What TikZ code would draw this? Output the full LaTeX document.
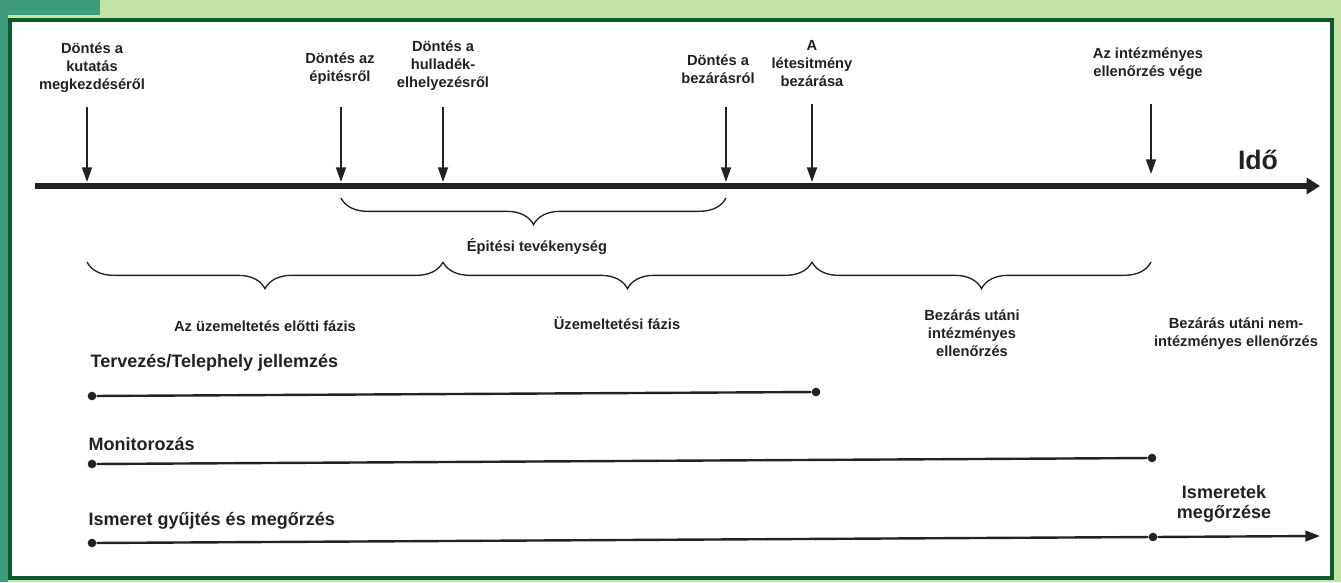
\documentclass[tikz,border=0pt]{standalone}
\usepackage{fontspec}
\setmainfont{Liberation Sans}
\usetikzlibrary{arrows.meta,decorations.pathreplacing}
\definecolor{framegreen}{HTML}{0E5A2C}
\definecolor{tealgreen}{HTML}{3E9C7C}
\definecolor{bandgreen}{HTML}{C2E3A6}
\definecolor{inkgray}{HTML}{222222}
\begin{document}
\begin{tikzpicture}[x=0.75pt,y=-0.75pt,
  event/.style={font=\bfseries\fontsize{11}{13.5}\selectfont,align=center,text=inkgray},
  phase/.style={font=\bfseries\fontsize{11}{13.5}\selectfont,align=center,text=inkgray},
  track/.style={font=\bfseries\fontsize{13.5}{15}\selectfont,text=inkgray},
  tick/.style={draw=inkgray,line width=1.3pt,-{Triangle[length=11pt,width=7.5pt]}},
  curly/.style={draw=inkgray,line width=1pt,decorate,decoration={brace,mirror,amplitude=20pt}},
  dot/.style={circle,fill=inkgray,inner sep=0pt,minimum size=6.5pt}]
% background and frame
\fill[bandgreen] (0,0) rectangle (1341,582);
\fill[tealgreen] (0,0) rectangle (100,15);
\fill[tealgreen] (0,0) rectangle (8,582);
\draw[framegreen,line width=3pt,fill=white] (10,20) rectangle (1332,578);
% time axis
\coordinate (t0) at (35,186);
\coordinate (tend) at (1320,186);
\draw[inkgray,line width=4.5pt,-{Triangle[length=10pt,width=12pt]}] (t0)--(tend);
\node[font=\bfseries\fontsize{20}{22}\selectfont,text=inkgray] (ido) at (1258,160) {Idő};
% events
\node[event] (kut) at (92,68) {Döntés a\\kutatás\\megkezdéséről};
\node[event] (epit) at (340,69) {Döntés az\\épitésről};
\node[event] (hull) at (443,66) {Döntés a\\hulladék-\\elhelyezésről};
\node[event] (bezd) at (718,69) {Döntés a\\bezárásról};
\node[event] (letes) at (812,64) {A\\létesitmény\\bezárása};
\node[event] (intv) at (1148,64) {Az intézményes\\ellenőrzés vége};
\coordinate (k1) at (87,107);  \coordinate (k2) at (87,182);
\coordinate (e1) at (341,107); \coordinate (e2) at (341,182);
\coordinate (h1) at (443,107); \coordinate (h2) at (443,182);
\coordinate (b1) at (726,107); \coordinate (b2) at (726,182);
\coordinate (l1) at (812,104); \coordinate (l2) at (812,182);
\coordinate (v1) at (1151,104); \coordinate (v2) at (1151,174);
\draw[tick] (k1)--(k2);
\draw[tick] (e1)--(e2);
\draw[tick] (h1)--(h2);
\draw[tick] (b1)--(b2);
\draw[tick] (l1)--(l2);
\draw[tick] (v1)--(v2);
% phases
\coordinate (p1) at (341,198); \coordinate (p2) at (726,198);
\draw[curly] (p1)--(p2);
\node[phase] (epitev) at (537,247) {Épitési tevékenység};
\coordinate (q1) at (87,262);  \coordinate (q2) at (443,262);
\coordinate (q3) at (812,262); \coordinate (q4) at (1151,262);
\draw[curly] (q1)--(q2);
\draw[curly] (q2)--(q3);
\draw[curly] (q3)--(q4);
\node[phase] (elotti) at (265,326) {Az üzemeltetés előtti fázis};
\node[phase] (uzem) at (617,323) {Üzemeltetési fázis};
\node[phase] (intez) at (972,333) {Bezárás utáni\\intézményes\\ellenőrzés};
\node[phase] (nemint) at (1236,334) {Bezárás utáni nem-\\intézményes ellenőrzés};
% tracks
\node[track,anchor=west] (terv) at (86,363) {Tervezés/Telephely jellemzés};
\node[dot] (ta) at (92,396) {};
\node[dot] (tb) at (816,392) {};
\draw[inkgray,line width=1.8pt] (ta)--(tb);
\node[track,anchor=west] (moni) at (84,444) {Monitorozás};
\node[dot] (ma) at (92,464) {};
\node[dot] (mb) at (1152,458) {};
\draw[inkgray,line width=1.8pt] (ma)--(mb);
\node[track,anchor=west] (isme) at (84,521) {Ismeret gyűjtés és megőrzés};
\node[dot] (ia) at (92,543) {};
\node[dot] (ib) at (1153,537) {};
\coordinate (iend) at (1320,536);
\draw[inkgray,line width=1.8pt] (ia)--(ib);
\draw[inkgray,line width=1.8pt,-{Triangle[length=11pt,width=8pt]}] (ib)--(iend);
\node[track,align=center] (megor) at (1224,504) {Ismeretek\\megőrzése};
\end{tikzpicture}
\end{document}
